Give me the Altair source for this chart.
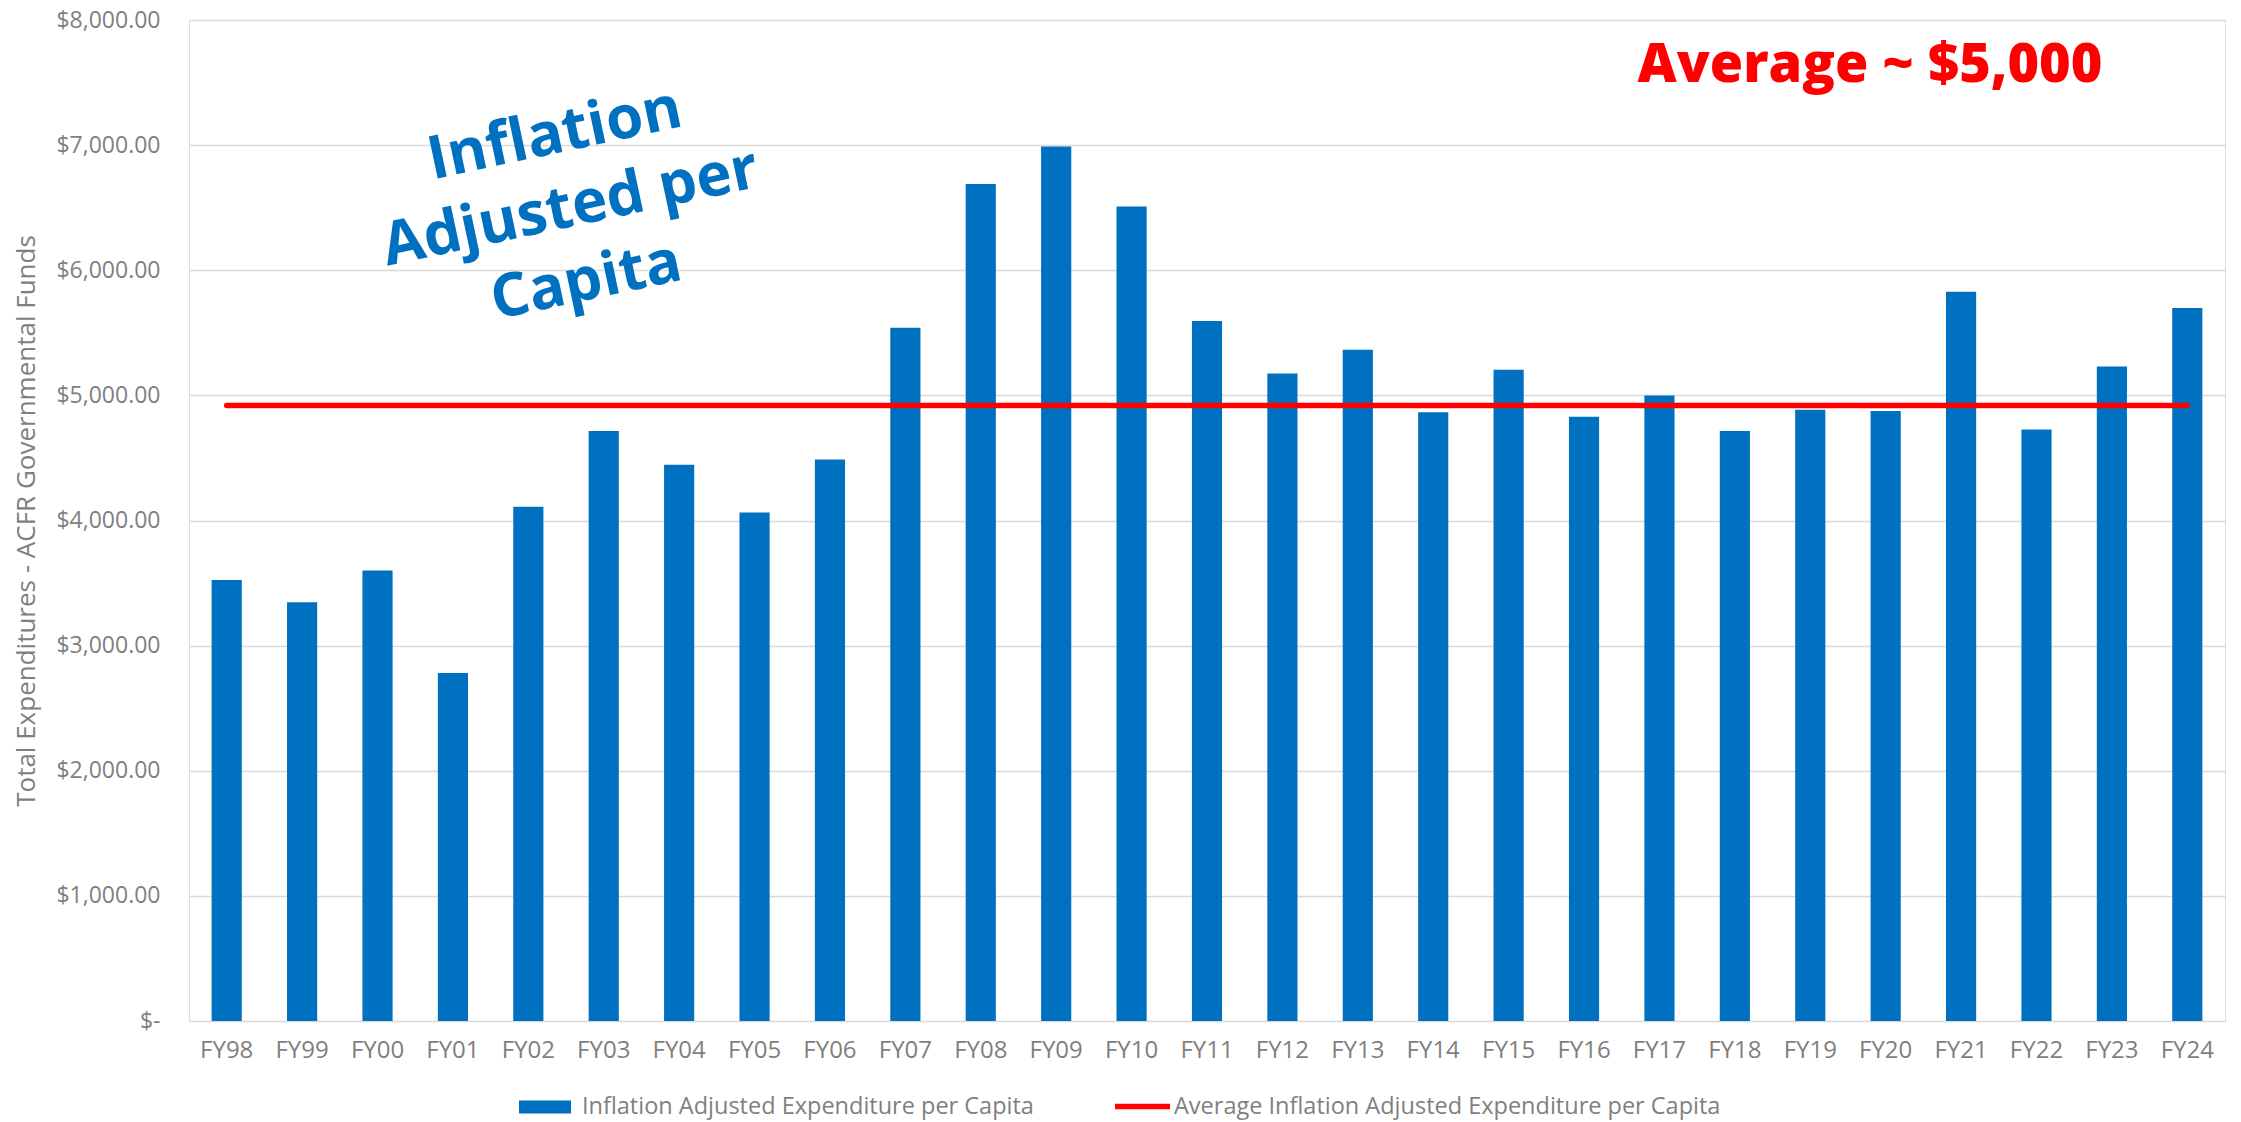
import altair as alt
import pandas as pd

years = ["FY98", "FY99", "FY00", "FY01", "FY02", "FY03", "FY04", "FY05", "FY06",
         "FY07", "FY08", "FY09", "FY10", "FY11", "FY12", "FY13", "FY14", "FY15",
         "FY16", "FY17", "FY18", "FY19", "FY20", "FY21", "FY22", "FY23", "FY24"]
values = [3525, 3346, 3601, 2782, 4109, 4716, 4446, 4064, 4488,
          5540, 6690, 6990, 6510, 5595, 5175, 5365, 4865, 5205,
          4830, 5000, 4715, 4885, 4875, 5829, 4727, 5231, 5699]
y_ticks = [0, 1000, 2000, 3000, 4000, 5000, 6000, 7000, 8000]

BAR_NAME = "Inflation Adjusted Expenditure per Capita"
AVG_NAME = "Average Inflation Adjusted Expenditure per Capita"
Y_TITLE = "Total Expenditures - ACFR Governmental Funds"
NOTE_LINES = ["Inflation", "Adjusted per", "Capita"]
AVG_NOTE = "Average ~ $5,000"

BLUE = "#0070C0"
RED = "#FF0000"
GRAY = "#7F7F7F"
FONT = "Open Sans"

df = pd.DataFrame({"year": years, "value": values})
df["series"] = BAR_NAME
df["avg_series"] = AVG_NAME

y_axis = alt.Axis(
    values=y_ticks,
    labelExpr="datum.value == 0 ? '$-\u00a0\u00a0' : format(datum.value, '$,.2f')",
    title=Y_TITLE,
    titleFont=FONT, titleFontSize=26, titleFontWeight="normal", titleColor=GRAY,
    titlePadding=16,
    labelFont=FONT, labelFontSize=23, labelColor=GRAY, labelPadding=29,
    ticks=False, domain=False,
    grid=True, gridColor="#D9D9D9", gridWidth=1.6,
)
x_enc = alt.X(
    "year:N", sort=years,
    scale=alt.Scale(paddingInner=0.6, paddingOuter=0.3),
    axis=alt.Axis(title=None, labelAngle=0, labelFont=FONT, labelFontSize=24,
                  labelColor=GRAY, labelPadding=17, ticks=False, domain=False, grid=False),
)
y_scale = alt.Scale(domain=[0, 8000], nice=False, zero=True)

bars = alt.Chart(df).mark_bar().encode(
    x=x_enc,
    y=alt.Y("value:Q", scale=y_scale, axis=y_axis),
    fill=alt.Fill("series:N", scale=alt.Scale(domain=[BAR_NAME], range=[BLUE]),
                  legend=alt.Legend(orient="none", legendX=330, legendY=1061, title=None,
                                    symbolType="M-1,-0.25H1V0.25H-1Z", symbolSize=2704,
                                    symbolStrokeWidth=0, labelFont=FONT, labelFontSize=23.5,
                                    labelColor=GRAY, labelOffset=11, labelLimit=0, padding=0)),
)

avg_line = alt.Chart(df).transform_joinaggregate(
    avg="mean(value)"
).mark_line(strokeWidth=5.5, strokeCap="round").encode(
    x=alt.X("year:N", sort=years),
    y=alt.Y("avg:Q", scale=y_scale, axis=y_axis),
    stroke=alt.Stroke("avg_series:N", scale=alt.Scale(domain=[AVG_NAME], range=[RED]),
                      legend=alt.Legend(orient="none", legendX=923, legendY=1056, title=None,
                                        symbolType="stroke", symbolSize=3025,
                                        symbolStrokeWidth=5.5, labelFont=FONT, labelFontSize=23.5,
                                        labelColor=GRAY, labelOffset=1, labelLimit=0, padding=0)),
)

note = alt.Chart(pd.DataFrame({"k": [0]})).mark_text(
    text=NOTE_LINES, font=FONT, fontSize=60, fontWeight="bold", color=BLUE,
    angle=348, align="center", baseline="middle", lineHeight=75,
).encode(x=alt.value(366), y=alt.value(115))

avg_note = alt.Chart(pd.DataFrame({"k": [0]})).mark_text(
    text=AVG_NOTE, font=FONT, fontSize=54, fontWeight=800, color=RED,
    align="center", baseline="alphabetic",
).encode(x=alt.value(1681), y=alt.value(62))

chart = alt.layer(bars, avg_line, note, avg_note).properties(
    width=2036, height=1001,
    padding={"left": 189, "top": 20, "right": 16, "bottom": 101},
    autosize=alt.AutoSizeParams(type="none"),
    background="white",
).configure_view(stroke=None).configure(font=FONT)

chart.save("out.html", embed_options={"renderer": "svg", "actions": False})
